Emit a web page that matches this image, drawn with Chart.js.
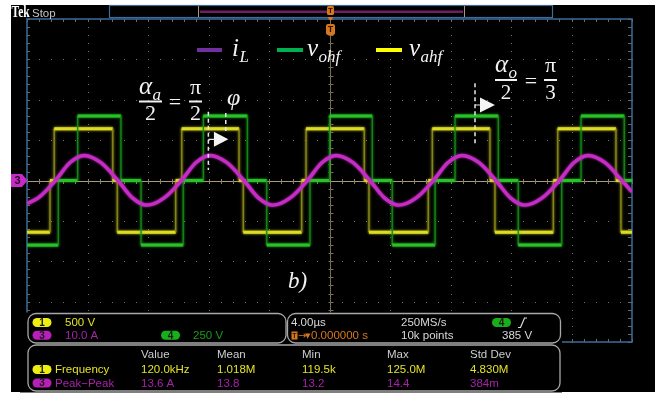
<!DOCTYPE html>
<html>
<head>
<meta charset="utf-8">
<title>i_L, v_ohf, v_ahf</title>
<style>
  html, body { margin: 0; padding: 0; background: #ffffff; }
  canvas { display: block; }
</style>
<script src="https://cdn.jsdelivr.net/npm/chart.js@4.4.1/dist/chart.umd.min.js"></script>
</head>
<body>
<canvas id="scope" width="659" height="395"></canvas>
<script>
// ---- acquisition settings -------------------------------------------------
const timeRange = [-20, 20];      // µs, 4.00 µs/div, trigger at centre
const divRange = [-4, 4];         // vertical divisions
const ch1VoltsPerDiv = 500;       // v_ahf (yellow)
const ch3AmpsPerDiv = 10;         // i_L   (magenta)
const ch4VoltsPerDiv = 250;       // v_ohf (green)

// ---- v_ohf : switching instants (µs) and the level after each one (V) -----
const vohfStart = -400;
const vohfTimes  = [-17.93, -16.65, -13.79, -12.46, -9.67, -8.34, -5.43, -4.15, -1.29, 0.00,
                     2.83, 4.15, 6.98, 8.30, 11.16, 12.48, 15.35, 16.63, 19.49];
const vohfLevels = [0, 400, 0, -400, 0, 400, 0, -400, 0, 400,
                    0, -400, 0, 400, 0, -400, 0, 400, 0];

// ---- v_ahf : switching instants (µs) and the level after each one (V) -----
const vahfStart = -640;
const vahfTimes  = [-18.48, -18.20, -14.33, -14.03, -10.17, -9.77, -5.98, -5.70, -1.84, -1.55,
                     2.30, 2.61, 6.53, 6.80, 10.61, 10.94, 14.80, 15.09, 18.94, 19.27];
const vahfLevels = [0, 640, 0, -640, 0, 640, 0, -640, 0, 640,
                    0, -640, 0, 640, 0, -640, 0, 640, 0, -640];

// ---- i_L : sampled current (µs, A) ----------------------------------------
const iLTimes = [-20.00, -19.26, -18.12, -17.17, -16.22, -15.11, -13.99, -13.03, -12.07, -10.93,
                 -9.79, -8.84, -7.89, -6.78, -5.66, -4.70, -3.74, -2.60, -1.46, -0.51,
                 0.44, 1.56, 2.67, 3.63, 4.59, 5.73, 6.87, 7.82, 8.77, 9.89,
                 11.00, 11.96, 12.92, 14.06, 15.20, 16.15, 17.10, 18.22, 19.33, 20.00];
const iLAmps  = [-5.7, -4.3, 0, 4.4, 6.2, 4.4, 0, -4.3, -6.1, -4.3,
                 0, 4.4, 6.2, 4.4, 0, -4.3, -6.1, -4.3, 0, 4.4,
                 6.2, 4.4, 0, -4.3, -6.1, -4.3, 0, 4.4, 6.2, 4.4,
                 0, -4.3, -6.1, -4.3, 0, 4.4, 6.2, 4.4, 0, -2.8];

// ---- readouts -------------------------------------------------------------
const measHeaders = ['Value', 'Mean', 'Min', 'Max', 'Std Dev'];
const measFreq    = ['120.0kHz', '1.018M', '119.5k', '125.0M', '4.830M'];
const measPkPk    = ['13.6 A', '13.8', '13.2', '14.4', '384m'];

// ---- colours --------------------------------------------------------------
const C_YEL = '#dcdc22', C_YEL_EDGE = '#8a8a18', C_YEL_TXT = '#e2e228';
const C_GRN = '#26c226', C_GRN_EDGE = '#138a13', C_GRN_TXT = '#1c9c1c';
const C_MAG = '#c42cc4', C_MAG_TXT = '#a822a8';
const C_ORG = '#d9781a';

// build step traces (two points per switching instant) in divisions
function stepPoints(start, times, levels, perDiv) {
  const pts = [{ x: timeRange[0], y: start / perDiv }];
  let prev = start;
  times.forEach((t, i) => {
    pts.push({ x: t, y: prev / perDiv });
    pts.push({ x: t, y: levels[i] / perDiv });
    prev = levels[i];
  });
  pts.push({ x: timeRange[1], y: prev / perDiv });
  return pts;
}
const iLPoints = iLTimes.map((t, i) => ({ x: t, y: iLAmps[i] / ch3AmpsPerDiv }));
const vohfPoints = stepPoints(vohfStart, vohfTimes, vohfLevels, ch4VoltsPerDiv);
const vahfPoints = stepPoints(vahfStart, vahfTimes, vahfLevels, ch1VoltsPerDiv);

const isEdge = c => Math.abs(c.p0.parsed.x - c.p1.parsed.x) < 1e-9;

// ---- plugins --------------------------------------------------------------
const screenBg = {
  id: 'screenBg',
  beforeDraw(chart) {
    const ctx = chart.ctx;
    ctx.save();
    ctx.fillStyle = '#ffffff';
    ctx.fillRect(0, 0, chart.width, chart.height);
    ctx.fillStyle = '#000000';
    ctx.fillRect(11, 5, 644, 387);
    ctx.restore();
  }
};

const graticule = {
  id: 'graticule',
  beforeDatasetsDraw(chart) {
    const { ctx, chartArea: a, scales: { x, y } } = chart;
    const px = t => x.getPixelForValue(t);
    const py = d => y.getPixelForValue(d);
    ctx.save();
    // dotted division lines
    ctx.fillStyle = '#747474';
    for (let k = -4; k <= 4; k++) {
      if (k === 0) continue;
      const X = Math.round(px(k * 4));
      for (let m = -20; m <= 20; m++) ctx.fillRect(X, Math.round(py(m * 0.2)), 1, 1);
    }
    for (let k = -3; k <= 3; k++) {
      if (k === 0) continue;
      const Y = Math.round(py(k));
      for (let m = -25; m <= 25; m++) ctx.fillRect(Math.round(px(m * 0.8)), Y, 1, 1);
    }
    // edge ticks
    ctx.strokeStyle = '#6a6a6a';
    ctx.lineWidth = 1;
    ctx.beginPath();
    for (let m = -25; m <= 25; m++) {
      const X = Math.round(px(m * 0.8)) + 0.5;
      ctx.moveTo(X, a.top); ctx.lineTo(X, a.top + 3);
      ctx.moveTo(X, a.bottom); ctx.lineTo(X, a.bottom - 3);
    }
    for (let m = -20; m <= 20; m++) {
      const Y = Math.round(py(m * 0.2)) + 0.5;
      ctx.moveTo(a.left, Y); ctx.lineTo(a.left + 3, Y);
      ctx.moveTo(a.right, Y); ctx.lineTo(a.right - 4, Y);
    }
    ctx.stroke();
    // centre cross-hair
    const cx = Math.round(px(0)) + 0.5, cy = Math.round(py(0)) + 0.5;
    ctx.strokeStyle = '#7a6e56';
    ctx.beginPath();
    ctx.moveTo(cx, a.top); ctx.lineTo(cx, a.bottom);
    for (let m = -20; m <= 20; m++) {
      const Y = Math.round(py(m * 0.2)) + 0.5;
      ctx.moveTo(cx - 2, Y); ctx.lineTo(cx + 3, Y);
    }
    ctx.stroke();
    ctx.strokeStyle = '#a89a78';
    ctx.beginPath();
    ctx.moveTo(a.left, cy); ctx.lineTo(a.right, cy);
    ctx.stroke();
    ctx.strokeStyle = '#8a8068';
    ctx.beginPath();
    for (let m = -25; m <= 25; m++) {
      const X = Math.round(px(m * 0.8)) + 0.5;
      ctx.moveTo(X, cy - 2.5); ctx.lineTo(X, cy + 2.5);
    }
    ctx.stroke();
    // frame
    ctx.strokeStyle = '#3d6c9a';
    ctx.lineWidth = 1.5;
    ctx.strokeRect(a.left, a.top, a.right - a.left, a.bottom - a.top);
    ctx.restore();
  }
};

const traceGlow = {
  id: 'traceGlow',
  beforeDatasetDraw(chart, args) {
    const ds = chart.data.datasets[args.index];
    chart.ctx.save();
    chart.ctx.shadowColor = ds.borderColor;
    chart.ctx.shadowBlur = 2.5;
  },
  afterDatasetDraw(chart) {
    chart.ctx.restore();
  }
};

function pill(ctx, cx, cy, color, label) {
  const w = 19, h = 9;
  ctx.beginPath();
  ctx.roundRect(cx - w / 2, cy - h / 2, w, h, h / 2);
  ctx.fillStyle = color;
  ctx.fill();
  ctx.fillStyle = '#1a1a1a';
  ctx.font = 'bold 10px "Liberation Sans", sans-serif';
  ctx.textAlign = 'center';
  ctx.textBaseline = 'middle';
  ctx.fillText(label, cx, cy + 0.5);
}

function panel(ctx, x, y, w, h) {
  ctx.beginPath();
  ctx.roundRect(x, y, w, h, 8);
  ctx.fillStyle = '#000';
  ctx.fill();
  ctx.strokeStyle = '#a8a8a8';
  ctx.lineWidth = 1.3;
  ctx.stroke();
}

function txt(ctx, s, x, y, color, font, align) {
  ctx.font = font || '12px "Liberation Sans", sans-serif';
  ctx.fillStyle = color;
  ctx.textAlign = align || 'left';
  ctx.textBaseline = 'middle';
  ctx.fillText(s, x, y);
}

const SERIF = '"Liberation Serif", "DejaVu Serif", serif';
function mathSym(ctx, x, yBase, main, sub, size) {
  ctx.textAlign = 'left';
  ctx.textBaseline = 'alphabetic';
  ctx.fillStyle = '#f2f2f2';
  ctx.font = `italic ${size}px ${SERIF}`;
  ctx.fillText(main, x, yBase);
  const w = ctx.measureText(main).width;
  if (sub) {
    ctx.font = `italic ${Math.round(size * 0.66)}px ${SERIF}`;
    ctx.fillText(sub, x + w + 0.5, yBase + size * 0.24);
  }
}
function fracBar(ctx, x0, x1, y) {
  ctx.fillStyle = '#f2f2f2';
  ctx.fillRect(x0, y - 1, x1 - x0, 2);
}
function centred(ctx, s, cx, yBase, size, italic) {
  ctx.font = `${italic ? 'italic ' : ''}${size}px ${SERIF}`;
  ctx.fillStyle = '#f2f2f2';
  ctx.textAlign = 'center';
  ctx.textBaseline = 'alphabetic';
  ctx.fillText(s, cx, yBase);
}

const overlay = {
  id: 'overlay',
  afterDraw(chart) {
    const { ctx, scales: { x, y } } = chart;
    const px = t => x.getPixelForValue(t);
    const py = d => y.getPixelForValue(d);
    ctx.save();

    // --- top status bar ---
    ctx.textBaseline = 'alphabetic';
    ctx.fillStyle = '#ffffff';
    ctx.font = 'bold 16px "Liberation Serif", serif';
    ctx.textAlign = 'left';
    ctx.save();
    ctx.translate(11.5, 17);
    ctx.scale(0.72, 1);
    ctx.fillText('Tek', 0, 0);
    ctx.restore();
    ctx.fillStyle = '#c4c4c4';
    ctx.font = '11.5px "Liberation Sans", sans-serif';
    ctx.fillText('Stop', 32, 16.5);
    ctx.strokeStyle = '#3d6c9a';
    ctx.lineWidth = 1.2;
    ctx.strokeRect(109.5, 5.5, 443, 12);
    ctx.fillStyle = '#6c1f64';
    ctx.fillRect(200, 10.5, 263, 2.5);
    ctx.strokeStyle = '#a89a78';
    ctx.lineWidth = 1;
    ctx.beginPath();
    ctx.moveTo(198.5, 6); ctx.lineTo(198.5, 17);
    ctx.moveTo(464.5, 6); ctx.lineTo(464.5, 17);
    ctx.stroke();
    const tx = Math.round(px(0)) + 0.5;
    // trigger position markers
    ctx.fillStyle = C_ORG;
    ctx.beginPath(); ctx.roundRect(tx - 3.5, 6, 7, 9, 1.5); ctx.fill();
    ctx.beginPath(); ctx.moveTo(tx - 3, 17); ctx.lineTo(tx + 3, 17); ctx.lineTo(tx, 21); ctx.closePath(); ctx.fill();
    ctx.beginPath(); ctx.roundRect(tx - 4.5, 24, 9, 11, 2); ctx.fill();
    ctx.fillStyle = '#2a1400';
    ctx.font = 'bold 8px "Liberation Sans", sans-serif';
    ctx.textAlign = 'center';
    ctx.textBaseline = 'middle';
    ctx.fillText('T', tx, 10.8);
    ctx.font = 'bold 9px "Liberation Sans", sans-serif';
    ctx.fillText('T', tx, 30);

    // --- channel 3 ground marker ---
    const gy = py(0);
    ctx.fillStyle = C_MAG;
    ctx.beginPath();
    ctx.moveTo(11, gy - 6.5); ctx.lineTo(22, gy - 6.5); ctx.lineTo(27.5, gy);
    ctx.lineTo(22, gy + 6.5); ctx.lineTo(11, gy + 6.5); ctx.closePath(); ctx.fill();
    ctx.fillStyle = '#2a002a';
    ctx.font = 'bold 11px "Liberation Sans", sans-serif';
    ctx.fillText('3', 17.5, gy + 0.5);

    // --- legend ---
    ctx.fillStyle = '#7030a0'; ctx.fillRect(197, 48, 25, 4);
    ctx.fillStyle = '#00b050'; ctx.fillRect(277, 48, 26, 4);
    ctx.fillStyle = '#ffff00'; ctx.fillRect(376, 48, 26, 4);
    mathSym(ctx, 232, 56, 'i', 'L', 25);
    mathSym(ctx, 307, 56, 'v', 'ohf', 25);
    mathSym(ctx, 409, 56, 'v', 'ahf', 25);

    // --- alpha_a / 2 = pi / 2 , phi ---
    mathSym(ctx, 139, 94, 'α', 'a', 25);
    fracBar(ctx, 139, 162, 101.5);
    centred(ctx, '2', 150.5, 120, 22);
    centred(ctx, '=', 175, 109, 22);
    centred(ctx, 'π', 195.5, 94, 22);
    fracBar(ctx, 189, 202, 101.5);
    centred(ctx, '2', 195.5, 120, 22);
    mathSym(ctx, 227, 105, 'φ', null, 24);

    // --- alpha_o / 2 = pi / 3 ---
    mathSym(ctx, 495, 72, 'α', 'o', 25);
    fracBar(ctx, 495, 517, 80);
    centred(ctx, '2', 506, 99, 21);
    centred(ctx, '=', 531, 87.5, 22);
    centred(ctx, 'π', 550.5, 72, 22);
    fracBar(ctx, 544, 557, 80);
    centred(ctx, '3', 550.5, 99, 21);

    // --- b) ---
    ctx.font = `italic 23px ${SERIF}`;
    ctx.fillStyle = '#f2f2f2';
    ctx.textAlign = 'left';
    ctx.textBaseline = 'alphabetic';
    ctx.fillText('b)', 288, 288);

    // --- phase markers (dashed lines and arrows) ---
    ctx.strokeStyle = '#e8e8e8';
    ctx.lineWidth = 1.5;
    ctx.setLineDash([4, 3]);
    ctx.beginPath();
    ctx.moveTo(px(-8.01), py(1.70)); ctx.lineTo(px(-8.01), py(0.26));
    ctx.moveTo(px(-6.86), py(1.67)); ctx.lineTo(px(-6.86), py(1.18));
    ctx.moveTo(px(9.62), py(2.41)); ctx.lineTo(px(9.62), py(0.92));
    ctx.stroke();
    ctx.setLineDash([]);
    ctx.lineWidth = 1.2;
    ctx.beginPath();
    ctx.moveTo(px(-8.01), py(1.02)); ctx.lineTo(px(-7.64), py(1.02));
    ctx.moveTo(px(9.62), py(1.87)); ctx.lineTo(px(9.95), py(1.87));
    ctx.stroke();
    ctx.fillStyle = '#f4f4f4';
    const arrow = (t0, t1, d) => {
      const x0 = px(t0), x1 = px(t1), yy = py(d);
      ctx.beginPath();
      ctx.moveTo(x0, yy - 7.5); ctx.lineTo(x1, yy); ctx.lineTo(x0, yy + 7.5); ctx.closePath(); ctx.fill();
    };
    arrow(-7.64, -6.69, 1.02);
    arrow(9.95, 10.94, 1.87);

    // --- readout panels ---
    ctx.fillStyle = '#000';
    ctx.fillRect(20, 312.5, 542, 80);
    panel(ctx, 28, 313.5, 258, 29.5);
    panel(ctx, 287.5, 313.5, 273, 29.5);
    panel(ctx, 28, 345, 532, 46);

    const f12 = '11.5px "Liberation Sans", sans-serif';
    pill(ctx, 42, 322.5, '#eeee10', '1');
    txt(ctx, '500 V', 65, 323, C_YEL_TXT, f12);
    pill(ctx, 42, 335.3, '#b81eb8', '3');
    txt(ctx, '10.0 A', 65, 336, C_MAG_TXT, f12);
    pill(ctx, 170.5, 335.3, '#18b018', '4');
    txt(ctx, '250 V', 193, 336, C_GRN_TXT, f12);

    txt(ctx, '4.00µs', 291, 323, '#d8d8d8', f12);
    txt(ctx, '250MS/s', 401, 323, '#d8d8d8', f12);
    pill(ctx, 501.5, 322.5, '#18b018', '4');
    ctx.strokeStyle = '#e0e0e0';
    ctx.lineWidth = 1.2;
    ctx.beginPath();
    ctx.moveTo(518, 327.5); ctx.lineTo(520.5, 327.5); ctx.lineTo(524.5, 318); ctx.lineTo(527, 318);
    ctx.stroke();
    ctx.fillStyle = C_ORG;
    ctx.fillRect(291.5, 331.5, 6, 8);
    ctx.fillStyle = '#2a1400';
    ctx.font = 'bold 7px "Liberation Sans", sans-serif';
    ctx.textAlign = 'center';
    ctx.fillText('T', 294.5, 336);
    txt(ctx, '→', 298, 336, C_ORG, '10px "DejaVu Sans", sans-serif');
    txt(ctx, '▼', 305, 336, C_ORG, '7px "DejaVu Sans", sans-serif');
    txt(ctx, '0.000000 s', 311, 336, C_ORG, f12);
    txt(ctx, '10k points', 401, 336, '#d8d8d8', f12);
    txt(ctx, '385 V', 502, 336, '#d8d8d8', f12);

    const cols = [141, 217, 302, 387, 470];
    measHeaders.forEach((h, i) => txt(ctx, h, cols[i], 354.5, '#cccccc', f12));
    pill(ctx, 42, 369.5, '#eeee10', '1');
    txt(ctx, 'Frequency', 55, 370, C_YEL_TXT, f12);
    measFreq.forEach((v, i) => txt(ctx, v, cols[i], 370, C_YEL_TXT, f12));
    pill(ctx, 42, 383, '#b81eb8', '3');
    txt(ctx, 'Peak\u2212Peak', 55, 383.5, C_MAG_TXT, f12);
    measPkPk.forEach((v, i) => txt(ctx, v, cols[i], 383.5, C_MAG_TXT, f12));

    ctx.restore();
  }
};

new Chart(document.getElementById('scope'), {
  type: 'line',
  data: {
    datasets: [
      {
        label: 'i_L',
        data: iLPoints,
        borderColor: C_MAG,
        borderWidth: 3.4,
        pointRadius: 0,
        cubicInterpolationMode: 'monotone',
        order: 0
      },
      {
        label: 'v_ohf',
        data: vohfPoints,
        borderColor: C_GRN,
        borderWidth: 3,
        pointRadius: 0,
        tension: 0,
        order: 1,
        segment: {
          borderColor: c => isEdge(c) ? C_GRN_EDGE : undefined,
          borderWidth: c => isEdge(c) ? 1.2 : undefined
        }
      },
      {
        label: 'v_ahf',
        data: vahfPoints,
        borderColor: C_YEL,
        borderWidth: 3,
        pointRadius: 0,
        tension: 0,
        order: 2,
        segment: {
          borderColor: c => isEdge(c) ? C_YEL_EDGE : undefined,
          borderWidth: c => isEdge(c) ? 1.2 : undefined
        }
      }
    ]
  },
  options: {
    responsive: false,
    animation: false,
    devicePixelRatio: 1,
    events: [],
    layout: { padding: { left: 27, right: 27, top: 19, bottom: 53 } },
    scales: {
      x: { type: 'linear', min: timeRange[0], max: timeRange[1], display: false },
      y: { type: 'linear', min: divRange[0], max: divRange[1], display: false }
    },
    plugins: { legend: { display: false }, tooltip: { enabled: false } }
  },
  plugins: [screenBg, graticule, traceGlow, overlay]
});
</script>
</body>
</html>
